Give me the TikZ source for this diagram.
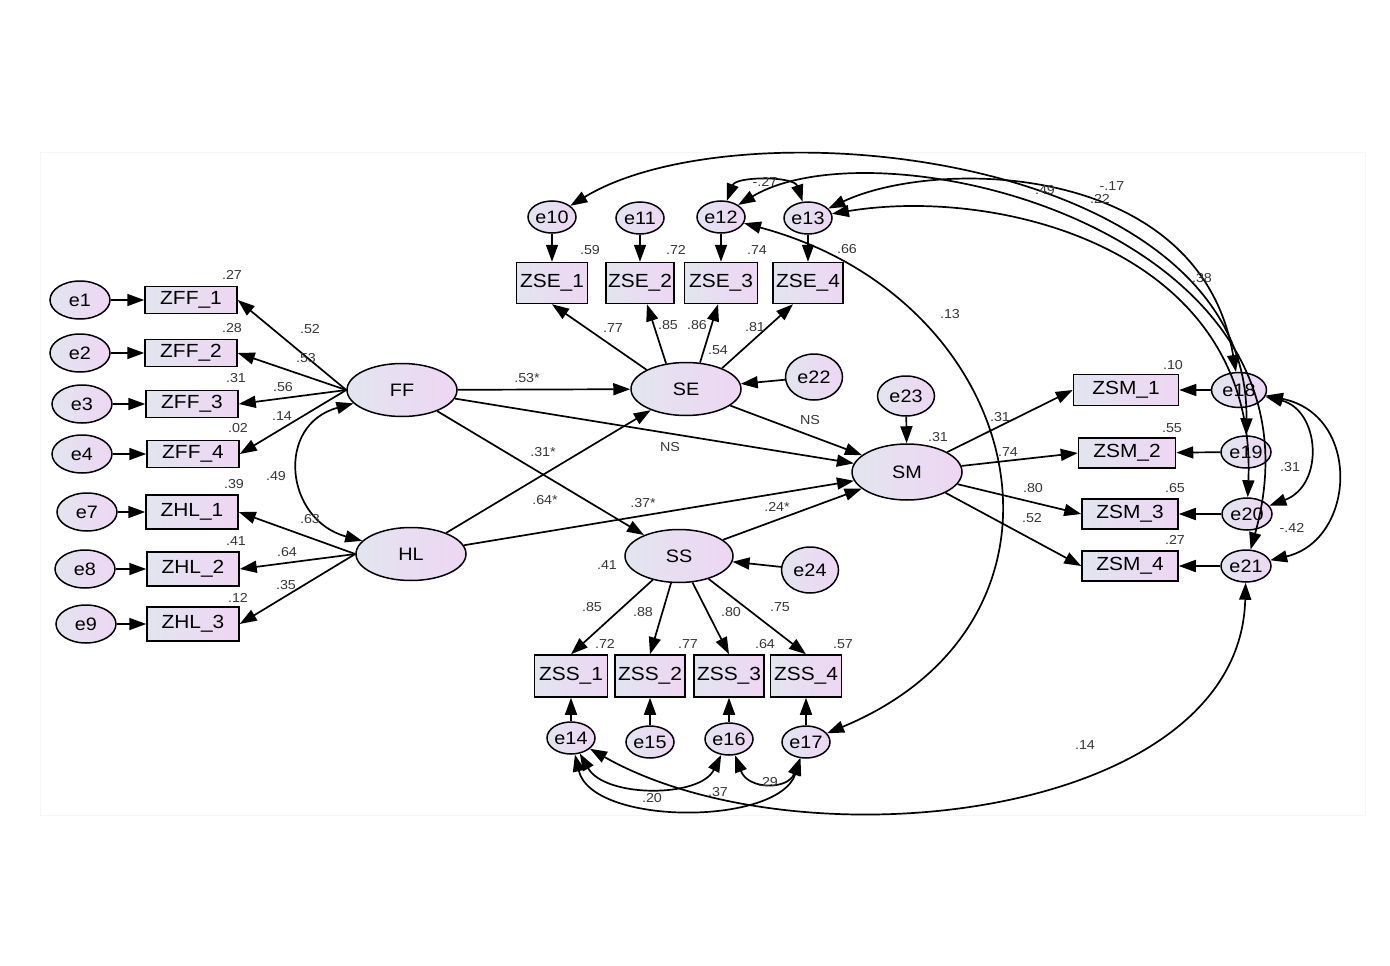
\documentclass[tikz,border=0pt]{standalone}
\usepackage{fontspec}
\setmainfont[FakeStretch=1.1]{Liberation Sans}
\usetikzlibrary{shapes.geometric,arrows.meta}
\definecolor{shL}{RGB}{226,229,240}
\definecolor{shR}{RGB}{238,214,243}
\definecolor{lab}{RGB}{55,55,55}
\begin{document}
\begin{tikzpicture}[x=1pt,y=-1pt,
  ev/.style={ellipse, draw=black, line width=1.5pt, left color=shL, right color=shR, inner sep=0pt, font=\fontsize{18}{18}\selectfont},
  ob/.style={rectangle, draw=black, line width=1.5pt, left color=shL, right color=shR, inner sep=0pt, font=\fontsize{19}{19}\selectfont},
  errL/.style={ev, minimum width=60pt, minimum height=38pt},
  errS/.style={ev, minimum width=48pt, minimum height=32pt},
  errR/.style={ev, minimum width=50pt, minimum height=32pt},
  errM/.style={ev, minimum width=57pt, minimum height=46pt},
  lat/.style={ev, minimum width=110pt, minimum height=53pt},
  boxF/.style={ob, minimum width=92pt, minimum height=27pt},
  boxH/.style={ob, minimum width=92pt, minimum height=34pt},
  boxE/.style={ob, minimum width=71pt, minimum height=41pt},
  boxM/.style={ob, minimum width=100pt, minimum height=30pt},
  lb/.style={font=\fontsize{13}{13}\selectfont, text=lab, inner sep=0pt},
  arr/.style={line width=1.7pt, -{Triangle[length=17pt,width=12pt]}},
  cov/.style={line width=1.7pt, {Triangle[length=17pt,width=12pt]}-{Triangle[length=17pt,width=12pt]}}
]
\useasboundingbox (0,0) rectangle (1390,966);
\fill[white] (0,0) rectangle (1390,966);
\draw[black!4, line width=1pt] (40,152) rectangle (1365,815);

% ---------- left block ----------
\node[errL] (e1) at (80,300) {e1};
\node[errL] (e2) at (80,353) {e2};
\node[errL] (e3) at (82,404) {e3};
\node[errL] (e4) at (82,454) {e4};
\node[errL] (e7) at (87,512) {e7};
\node[errL] (e8) at (85,569) {e8};
\node[errL] (e9) at (86,624) {e9};
\node[boxF] (ZFF1) at (191,300) {ZFF\_1};
\node[boxF] (ZFF2) at (191,353) {ZFF\_2};
\node[boxF] (ZFF3) at (192,404) {ZFF\_3};
\node[boxF] (ZFF4) at (193,454) {ZFF\_4};
\node[boxH] (ZHL1) at (192,512) {ZHL\_1};
\node[boxH] (ZHL2) at (193,569) {ZHL\_2};
\node[boxH] (ZHL3) at (193,624) {ZHL\_3};
\node[lat] (FF) at (402,390) {FF};
\node[lat] (HL) at (411,554) {HL};

% ---------- SE block ----------
\node[lat] (SE) at (686,389) {SE};
\node[errM] (e22) at (814,377) {e22};
\node[errS] (e10) at (552,217) {e10};
\node[errS] (e11) at (640,218) {e11};
\node[errS] (e12) at (721,217) {e12};
\node[errS] (e13) at (808,218) {e13};
\node[boxE] (ZSE1) at (552,283) {ZSE\_1};
\node[boxE, minimum width=68pt] (ZSE2) at (640,283) {ZSE\_2};
\node[boxE, minimum width=73pt] (ZSE3) at (721,283) {ZSE\_3};
\node[boxE, minimum width=70pt] (ZSE4) at (808,283) {ZSE\_4};

% ---------- SS block ----------
\node[lat, minimum width=108pt] (SS) at (679,556) {SS};
\node[errM] (e24) at (810,570) {e24};
\node[boxE, minimum width=73pt, minimum height=42pt] (ZSS1) at (571,676) {ZSS\_1};
\node[boxE, minimum width=70pt, minimum height=42pt] (ZSS2) at (650,676) {ZSS\_2};
\node[boxE, minimum width=70pt, minimum height=42pt] (ZSS3) at (729,676) {ZSS\_3};
\node[boxE, minimum width=71pt, minimum height=42pt] (ZSS4) at (806,676) {ZSS\_4};
\node[errS] (e14) at (571,738) {e14};
\node[errS] (e15) at (650,742) {e15};
\node[errS] (e16) at (729,739) {e16};
\node[errS] (e17) at (806,742) {e17};

% ---------- SM block ----------
\node[lat, minimum height=56pt] (SM) at (907,472) {SM};
\node[errM, minimum height=40pt] (e23) at (906,396) {e23};
\node[boxM, minimum width=105pt, minimum height=31pt] (ZSM1) at (1126,390) {ZSM\_1};
\node[boxM, minimum width=97pt] (ZSM2) at (1127,453) {ZSM\_2};
\node[boxM, minimum width=96pt] (ZSM3) at (1130,514) {ZSM\_3};
\node[boxM, minimum width=96pt] (ZSM4) at (1130,566) {ZSM\_4};
\node[errR, minimum width=55pt, minimum height=35pt] (e18) at (1239,390) {e18};
\node[errR] (e19) at (1246,452) {e19};
\node[errR] (e20) at (1247,514) {e20};
\node[errR] (e21) at (1246,566) {e21};

% ---------- error arrows ----------
\draw[arr] (e1) -- (ZFF1);
\draw[arr] (e2) -- (ZFF2);
\draw[arr] (e3) -- (ZFF3);
\draw[arr] (e4) -- (ZFF4);
\draw[arr] (e7) -- (ZHL1);
\draw[arr] (e8) -- (ZHL2);
\draw[arr] (e9) -- (ZHL3);
\draw[arr] (e10) -- (ZSE1);
\draw[arr] (e11) -- (ZSE2);
\draw[arr] (e12) -- (ZSE3);
\draw[arr] (e13) -- (ZSE4);
\draw[arr] (e14) -- (ZSS1);
\draw[arr] (e15) -- (ZSS2);
\draw[arr] (e16) -- (ZSS3);
\draw[arr] (e17) -- (ZSS4);
\draw[arr] (e18) -- (ZSM1);
\draw[arr] (e19) -- (ZSM2);
\draw[arr] (e20) -- (ZSM3);
\draw[arr] (e21) -- (ZSM4);
\draw[arr] (e22) -- (SE);
\draw[arr] (e23) -- (SM);
\draw[arr] (e24) -- (SS);

% ---------- loadings ----------
\draw[arr] (FF.west) -- (ZFF1.east);
\draw[arr] (FF.west) -- (ZFF2.east);
\draw[arr] (FF.west) -- (ZFF3.east);
\draw[arr] (FF.west) -- (ZFF4.east);
\draw[arr] (HL.west) -- (ZHL1.east);
\draw[arr] (HL.west) -- (ZHL2.east);
\draw[arr] (HL.west) -- (ZHL3.east);
\draw[arr] (SE.154) -- (ZSE1.south);
\draw[arr] (SE.128) -- ([xshift=7pt]ZSE2.south);
\draw[arr] (SE.62) -- ([xshift=-3pt]ZSE3.south);
\draw[arr] (SE.30) -- ([xshift=-15pt]ZSE4.south);
\draw[arr] (SS) -- (ZSS1.north);
\draw[arr] (SS) -- (ZSS2.north);
\draw[arr] (SS) -- (ZSS3.north);
\draw[arr] (SS) -- (ZSS4.north);
\draw[arr] (SM) -- (ZSM1.west);
\draw[arr] (SM) -- (ZSM2.west);
\draw[arr] (SM) -- (ZSM3.west);
\draw[arr] (SM) -- (ZSM4.west);

% ---------- structural paths ----------
\draw[arr] (FF) -- (SE);
\draw[arr] (FF) -- (SM);
\draw[arr] (FF) -- (SS);
\draw[arr] (HL) -- (SE);
\draw[arr] (HL) -- (SM);
\draw[arr] (SE) -- (SM);
\draw[arr] (SS) -- (SM);

% ---------- covariances ----------
\draw[cov] (FF) .. controls (275,425) and (285,520) .. (HL);
\draw[cov] (e12) .. controls (736,176) and (794,176) .. (e13);
\draw[cov] (e10) .. controls (740,102) and (1250,152) .. (e19);
\draw[cov] (e13.10) .. controls (1000,186) and (1258,250) .. (e20);
\draw[cov] (e13.25) .. controls (935,158) and (1200,160) .. (e18);
\draw[cov] (e12.35) .. controls (880,120) and (1340,230) .. (e21);
\draw[cov] (e12) .. controls (1030,300) and (1100,620) .. (e17);
\draw[cov] (e18) .. controls (1320,410) and (1325,485) .. (e20);
\draw[cov] (e18) .. controls (1362,415) and (1356,540) .. (e21);
\draw[cov] (e14) .. controls (800,868) and (1240,820) .. (e21);
\draw[cov] (e14) .. controls (605,798) and (700,798) .. (e16);
\draw[cov] (e14) .. controls (592,826) and (778,826) .. (e17);
\draw[cov] (e16) .. controls (748,790) and (788,790) .. (e17);

% ---------- labels ----------
\node[lb] (r1) at (232,275) {.27};
\node[lb] (r2) at (232,328) {.28};
\node[lb] (r3) at (236,378) {.31};
\node[lb] (r4) at (238,428) {.02};
\node[lb] (r7) at (234,484) {.39};
\node[lb] (r8) at (236,541) {.41};
\node[lb] (r9) at (238,598) {.12};
\node[lb] (l1) at (310,329) {.52};
\node[lb] (l2) at (306,358) {.53};
\node[lb] (l3) at (283,387) {.56};
\node[lb] (l4) at (282,416) {.14};
\node[lb] (cFH) at (276,476) {.49};
\node[lb] (l7) at (310,519) {.63};
\node[lb] (l8) at (287,552) {.64};
\node[lb] (l9) at (286,585) {.35};

\node[lb] (r10) at (590,250) {.59};
\node[lb] (r11) at (676,250) {.72};
\node[lb] (r12) at (757,250) {.74};
\node[lb] (r13) at (847,249) {.66};
\node[lb] (l10) at (613,328) {.77};
\node[lb] (l11) at (668,325) {.85};
\node[lb] (l12) at (697,325) {.86};
\node[lb] (l13) at (755,327) {.81};
\node[lb] (rSE) at (718,350) {.54};
\node[lb] (c1213) at (765,182) {-.27};

\node[lb] (p1) at (527,378) {.53*};
\node[lb] (p2) at (670,447) {NS};
\node[lb] (p3) at (543,452) {.31*};
\node[lb] (p4) at (545,500) {.64*};
\node[lb] (p5) at (643,503) {.37*};
\node[lb] (p6) at (777,507) {.24*};
\node[lb] (p7) at (810,420) {NS};

\node[lb] (rSS) at (607,565) {.41};
\node[lb] (l14) at (592,607) {.85};
\node[lb] (l15) at (643,612) {.88};
\node[lb] (l16) at (731,612) {.80};
\node[lb] (l17) at (780,607) {.75};
\node[lb] (r14) at (605,644) {.72};
\node[lb] (r15) at (688,644) {.77};
\node[lb] (r16) at (765,644) {.64};
\node[lb] (r17) at (843,644) {.57};
\node[lb] (c1417) at (652,798) {.20};
\node[lb] (c1421b) at (718,792) {.37};
\node[lb] (c1617) at (768,782) {.29};
\node[lb] (c1421) at (1085,745) {.14};

\node[lb] (rSM) at (938,437) {.31};
\node[lb] (l18) at (1000,417) {.31};
\node[lb] (l19) at (1008,452) {.74};
\node[lb] (l20) at (1033,488) {.80};
\node[lb] (l21) at (1032,518) {.52};
\node[lb] (r18) at (1173,365) {.10};
\node[lb] (r19) at (1172,428) {.55};
\node[lb] (r20) at (1175,488) {.65};
\node[lb] (r21) at (1175,540) {.27};
\node[lb] (c1820) at (1290,467) {.31};
\node[lb] (c1821) at (1292,528) {-.42};

\node[lb] (cA) at (1045,190) {.49};
\node[lb] (cB) at (1112,186) {-.17};
\node[lb] (cC) at (1100,199) {.22};
\node[lb] (cD) at (1202,278) {.38};
\node[lb] (c1217) at (950,314) {.13};
\end{tikzpicture}
\end{document}
